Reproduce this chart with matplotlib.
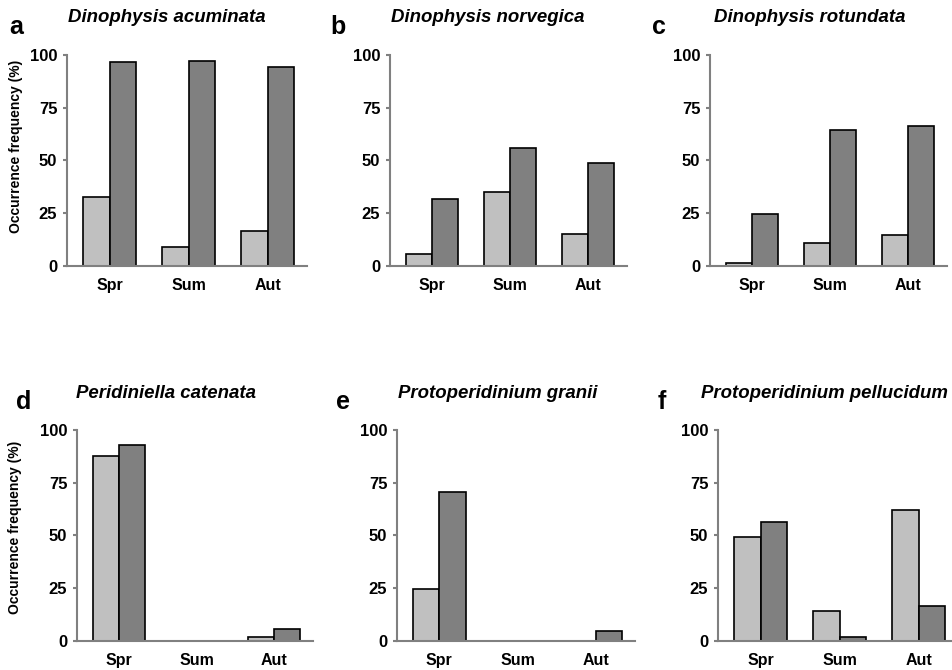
import matplotlib
matplotlib.use("Agg")
import matplotlib.pyplot as plt
import numpy as np

plt.rcParams['font.family'] = ['Liberation Sans', 'DejaVu Sans']

seasons = ["Spr", "Sum", "Aut"]
species = ["Dinophysis acuminata", "Dinophysis norvegica", "Dinophysis rotundata",
           "Peridiniella catenata", "Protoperidinium granii", "Protoperidinium pellucidum"]
letters = ["a", "b", "c", "d", "e", "f"]

light_a = [32.5, 8.9, 16.5]
dark_a = [96.7, 97.3, 94.3]
light_b = [5.5, 34.8, 15.0]
dark_b = [31.5, 55.7, 48.7]
light_c = [1.1, 10.7, 14.4]
dark_c = [24.5, 64.2, 66.2]
light_d = [87.8, 0.0, 1.9]
dark_d = [92.9, 0.0, 5.4]
light_e = [24.5, 0.0, 0.0]
dark_e = [70.7, 0.0, 4.7]
light_f = [49.4, 14.2, 62.0]
dark_f = [56.3, 1.8, 16.6]

lights = [light_a, light_b, light_c, light_d, light_e, light_f]
darks = [dark_a, dark_b, dark_c, dark_d, dark_e, dark_f]
yticks = [0, 25, 50, 75, 100]

W, H = 952, 670
fig = plt.figure(figsize=(W / 100, H / 100), dpi=100)

# axes boxes in pixel coords: left, right, top, bottom
boxes = [(67, 307, 55, 265.7), (390, 627, 55, 265.7), (710, 947, 55, 265.7),
         (77, 313, 430, 640.7), (397, 635, 430, 640.7), (718, 958, 430, 640.7)]
title_pos = [(167, 17), (488, 17), (810, 17), (166, 393), (498, 393), (824, 393)]
letter_pos = [(16, 27), (338, 27), (659, 27), (24, 402), (343, 402), (662, 402)]
ylabel_coords = {0: (-0.185, 0.566), 3: (-0.232, 0.537)}

light_col = "#C0C0C0"
dark_col = "#808080"
axis_col = "#808080"
w = 0.335
x = np.arange(len(seasons))

for i in range(6):
    l, r, t, b = boxes[i]
    ax = fig.add_axes([l / W, (H - b) / H, (r - l) / W, (b - t) / H])
    ax.bar(x - w / 2, lights[i], width=w, color=light_col, edgecolor="black", linewidth=1.2, zorder=3)
    ax.bar(x + w / 2, darks[i], width=w, color=dark_col, edgecolor="black", linewidth=1.2, zorder=3)
    ax.set_xlim(-0.54, 2.5)
    ax.set_ylim(0, 100)
    ax.set_yticks(yticks)
    ax.set_yticklabels([str(v) for v in yticks], fontsize=12, fontweight="bold")
    ax.set_xticks(x)
    ax.set_xticklabels(seasons, fontsize=11.5, fontweight="bold")
    for s in ["top", "right"]:
        ax.spines[s].set_visible(False)
    for s in ["left", "bottom"]:
        ax.spines[s].set_color(axis_col)
        ax.spines[s].set_linewidth(1.5)
    ax.spines["bottom"].set_zorder(4)
    ax.tick_params(axis="y", length=3, width=1.5, color=axis_col, pad=4)
    ax.tick_params(axis="x", length=0, pad=9)
    if i in ylabel_coords:
        ax.set_ylabel("Occurrence frequency (%)", fontsize=10, fontweight="bold")
        ax.yaxis.set_label_coords(*ylabel_coords[i])
    tx, ty = title_pos[i]
    fig.text(tx / W, (H - ty) / H, species[i], fontsize=13.4, fontweight="bold", fontstyle="italic",
             ha="center", va="center")
    lx, ly = letter_pos[i]
    fig.text(lx / W, (H - ly) / H, letters[i], fontsize=18, fontweight="bold",
             ha="center", va="center")

fig.savefig("out.png", dpi=100)
